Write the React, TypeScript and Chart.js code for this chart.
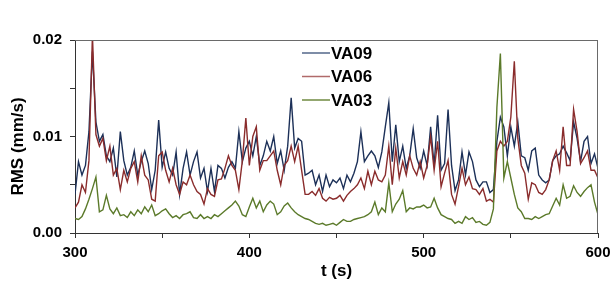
import { useEffect, useRef } from "react";
import { Chart, registerables } from "chart.js";

Chart.register(...registerables);

const TIMES = [
  300, 302, 304, 306, 308, 310, 312, 314, 316, 318,
  320, 322, 324, 326, 328, 330, 332, 334, 336, 338,
  340, 342, 344, 346, 348, 350, 352, 354, 356, 358,
  360, 362, 364, 366, 368, 370, 372, 374, 376, 378,
  380, 382, 384, 386, 388, 390, 392, 394, 396, 398,
  400, 402, 404, 406, 408, 410, 412, 414, 416, 418,
  420, 422, 424, 426, 428, 430, 432, 434, 436, 438,
  440, 442, 444, 446, 448, 450, 452, 454, 456, 458,
  460, 462, 464, 466, 468, 470, 472, 474, 476, 478,
  480, 482, 484, 486, 488, 490, 492, 494, 496, 498,
  500, 502, 504, 506, 508, 510, 512, 514, 516, 518,
  520, 522, 524, 526, 528, 530, 532, 534, 536, 538,
  540, 542, 544, 546, 548, 550, 552, 554, 556, 558,
  560, 562, 564, 566, 568, 570, 572, 574, 576, 578,
  580, 582, 584, 586, 588, 590, 592, 594, 596, 598,
  600,
];

const VA09 = [
  0.0040, 0.0074, 0.0060, 0.0070, 0.0105, 0.0188, 0.0115, 0.0095, 0.0102, 0.0080,
  0.0074, 0.0088, 0.0058, 0.0105, 0.0075, 0.0060, 0.0068, 0.0085, 0.0060, 0.0074,
  0.0085, 0.0072, 0.0045, 0.0065, 0.0117, 0.0068, 0.0084, 0.0067, 0.0060, 0.0084,
  0.0040, 0.0067, 0.0084, 0.0060, 0.0074, 0.0084, 0.0057, 0.0067, 0.0043, 0.0067,
  0.0043, 0.0070, 0.0067, 0.0057, 0.0068, 0.0074, 0.0067, 0.0105, 0.0074, 0.0088,
  0.0095, 0.0080, 0.0100, 0.0070, 0.0080, 0.0095, 0.0085, 0.0100, 0.0072, 0.0085,
  0.0065, 0.0090, 0.0140, 0.0088, 0.0098, 0.0095, 0.0060, 0.0062, 0.0065, 0.0050,
  0.0060, 0.0043, 0.0060, 0.0048, 0.0055, 0.0052, 0.0057, 0.0046, 0.0060, 0.0053,
  0.0062, 0.0074, 0.0105, 0.0074, 0.0080, 0.0085, 0.0080, 0.0068, 0.0084, 0.0110,
  0.0135, 0.0074, 0.0112, 0.0074, 0.0090, 0.0067, 0.0080, 0.0108, 0.0078, 0.0067,
  0.0085, 0.0070, 0.0110, 0.0070, 0.0122, 0.0065, 0.0072, 0.0128, 0.0070, 0.0044,
  0.0055, 0.0084, 0.0060, 0.0084, 0.0074, 0.0055, 0.0048, 0.0053, 0.0053, 0.0042,
  0.0045, 0.0095, 0.0120, 0.0110, 0.0080, 0.0110, 0.0090, 0.0115, 0.0080, 0.0078,
  0.0065, 0.0085, 0.0088, 0.0060, 0.0055, 0.0052, 0.0055, 0.0075, 0.0080, 0.0082,
  0.0090, 0.0083, 0.0075, 0.0115, 0.0098, 0.0074, 0.0095, 0.0100, 0.0072, 0.0082,
  0.0067,
];

const VA06 = [
  0.0026, 0.0032, 0.0050, 0.0042, 0.0075, 0.0205, 0.0102, 0.0090, 0.0098, 0.0075,
  0.0090, 0.0060, 0.0067, 0.0045, 0.0065, 0.0053, 0.0067, 0.0074, 0.0053, 0.0080,
  0.0060, 0.0055, 0.0035, 0.0033, 0.0080, 0.0084, 0.0065, 0.0053, 0.0067, 0.0050,
  0.0040, 0.0053, 0.0050, 0.0060, 0.0050, 0.0043, 0.0040, 0.0030, 0.0046, 0.0040,
  0.0038, 0.0055, 0.0056, 0.0067, 0.0080, 0.0070, 0.0065, 0.0045, 0.0075, 0.0119,
  0.0070, 0.0100, 0.0110, 0.0065, 0.0075, 0.0075, 0.0080, 0.0085, 0.0065, 0.0050,
  0.0070, 0.0075, 0.0090, 0.0074, 0.0090, 0.0065, 0.0040, 0.0040, 0.0043, 0.0039,
  0.0046, 0.0036, 0.0033, 0.0037, 0.0035, 0.0036, 0.0039, 0.0033, 0.0039, 0.0043,
  0.0046, 0.0050, 0.0057, 0.0046, 0.0064, 0.0050, 0.0064, 0.0055, 0.0053, 0.0060,
  0.0090, 0.0050, 0.0088, 0.0057, 0.0074, 0.0060, 0.0080, 0.0067, 0.0060, 0.0074,
  0.0057, 0.0070, 0.0100, 0.0065, 0.0095, 0.0048, 0.0062, 0.0075, 0.0040, 0.0030,
  0.0048, 0.0067, 0.0050, 0.0058, 0.0046, 0.0045, 0.0040, 0.0046, 0.0033, 0.0035,
  0.0032, 0.0085, 0.0095, 0.0090, 0.0095, 0.0120, 0.0178, 0.0098, 0.0070, 0.0062,
  0.0035, 0.0052, 0.0050, 0.0042, 0.0040, 0.0045, 0.0055, 0.0075, 0.0085, 0.0065,
  0.0110, 0.0070, 0.0070, 0.0128, 0.0105, 0.0072, 0.0078, 0.0085, 0.0065, 0.0065,
  0.0057,
];

const VA03 = [
  0.0015, 0.0014, 0.0017, 0.0025, 0.0035, 0.0046, 0.0058, 0.0022, 0.0024, 0.0039,
  0.0025, 0.0020, 0.0026, 0.0018, 0.0019, 0.0016, 0.0022, 0.0018, 0.0024, 0.0020,
  0.0027, 0.0022, 0.0029, 0.0018, 0.0020, 0.0023, 0.0025, 0.0020, 0.0016, 0.0018,
  0.0015, 0.0019, 0.0020, 0.0022, 0.0016, 0.0015, 0.0019, 0.0015, 0.0017, 0.0015,
  0.0019, 0.0017, 0.0020, 0.0023, 0.0026, 0.0029, 0.0033, 0.0028, 0.0019, 0.0017,
  0.0027, 0.0036, 0.0026, 0.0033, 0.0022, 0.0029, 0.0033, 0.0030, 0.0019, 0.0022,
  0.0028, 0.0031, 0.0026, 0.0022, 0.0019, 0.0017, 0.0015, 0.0014, 0.0012, 0.0010,
  0.0009, 0.0010, 0.0008, 0.0009, 0.0010, 0.0008, 0.0011, 0.0014, 0.0012, 0.0012,
  0.0014, 0.0015, 0.0016, 0.0017, 0.0019, 0.0022, 0.0032, 0.0019, 0.0026, 0.0022,
  0.0052, 0.0022, 0.0030, 0.0035, 0.0044, 0.0022, 0.0026, 0.0025, 0.0027, 0.0027,
  0.0029, 0.0026, 0.0027, 0.0036, 0.0026, 0.0019, 0.0017, 0.0015, 0.0014, 0.0010,
  0.0012, 0.0010, 0.0017, 0.0014, 0.0016, 0.0011, 0.0012, 0.0009, 0.0008, 0.0011,
  0.0025, 0.0130, 0.0186, 0.0057, 0.0074, 0.0057, 0.0040, 0.0026, 0.0022, 0.0015,
  0.0015, 0.0014, 0.0017, 0.0015, 0.0017, 0.0019, 0.0020, 0.0028, 0.0036, 0.0029,
  0.0050, 0.0036, 0.0038, 0.0049, 0.0042, 0.0038, 0.0043, 0.0047, 0.0050, 0.0032,
  0.0019,
];

const SERIES_NAMES = ["VA09", "VA06", "VA03"];
const SERIES_COLORS = ["#1c3058", "#8a2c2c", "#5b7a2a"];
const LEGEND_COLORS = ["#53678a", "#b06a6a", "#6f8a40"];
const X_TITLE = "t (s)";
const Y_TITLE = "RMS (mm/s)";

const FONT_FAMILY = "'Liberation Sans', Arial, Helvetica, sans-serif";

export default function App() {
  const canvasRef = useRef<HTMLCanvasElement | null>(null);

  useEffect(() => {
    document.body.style.margin = "0";
    const canvas = canvasRef.current;
    if (!canvas) return;

    const seriesValues = [VA09, VA06, VA03];
    const toPoints = (vals: number[]) => TIMES.map((t, i) => ({ x: t, y: vals[i] }));

    const framePlugin = {
      id: "frameBox",
      afterDraw(chart: any) {
        const { left, top, right, bottom } = chart.chartArea;
        const c = chart.ctx;
        c.save();
        c.strokeStyle = "#6a6a6a";
        c.lineWidth = 1;
        c.beginPath();
        c.moveTo(left, top + 0.5);
        c.lineTo(right, top + 0.5);
        c.moveTo(right - 0.5, top);
        c.lineTo(right - 0.5, bottom);
        c.stroke();
        c.restore();
      },
    };

    const legendPlugin = {
      id: "inlineLegend",
      afterDatasetsDraw(chart: any) {
        const c = chart.ctx;
        c.save();
        c.font = `bold 17px ${FONT_FAMILY}`;
        c.textBaseline = "middle";
        c.textAlign = "left";
        const x0 = 302;
        const x1 = 330;
        const ys = [53, 76.5, 100];
        SERIES_NAMES.forEach((name, i) => {
          c.strokeStyle = LEGEND_COLORS[i];
          c.lineWidth = 1.5;
          c.beginPath();
          c.moveTo(x0, ys[i]);
          c.lineTo(x1, ys[i]);
          c.stroke();
          c.fillStyle = "#000";
          c.fillText(name, x1 + 1, ys[i] + 1);
        });
        c.restore();
      },
    };

    const yTitlePlugin = {
      id: "yTitle",
      afterDraw(chart: any) {
        const c = chart.ctx;
        c.save();
        c.font = `bold 17px ${FONT_FAMILY}`;
        c.fillStyle = "#000";
        c.textAlign = "center";
        c.textBaseline = "middle";
        c.translate(18, 146.5);
        c.rotate(-Math.PI / 2);
        c.fillText(Y_TITLE, 0, 0);
        c.restore();
      },
    };

    const chart = new Chart(canvas, {
      type: "line",
      data: {
        datasets: SERIES_NAMES.map((name, i) => ({
          label: name,
          data: toPoints(seriesValues[i]),
          borderColor: SERIES_COLORS[i],
          backgroundColor: SERIES_COLORS[i],
          borderWidth: 1.4,
          pointRadius: 0,
          tension: 0,
          fill: false,
          order: 2 - i,
        })),
      },
      options: {
        animation: false,
        responsive: false,
        maintainAspectRatio: false,
        devicePixelRatio: 1,
        layout: { padding: { top: 40, right: 16, bottom: 0, left: 0 } },
        plugins: {
          legend: { display: false },
          tooltip: { enabled: false },
        },
        scales: {
          x: {
            type: "linear",
            min: 300,
            max: 600,
            afterFit: (s: any) => {
              s.height = 49;
              s.paddingLeft = 0;
              s.paddingRight = 0;
            },
            ticks: {
              stepSize: 50,
              autoSkip: false,
              maxRotation: 0,
              padding: 6,
              color: "#000",
              font: { family: FONT_FAMILY, size: 15, weight: "bold" },
              callback: (v: any) => (Number(v) % 100 === 0 ? String(v) : ""),
            },
            grid: {
              drawOnChartArea: false,
              drawTicks: true,
              tickLength: 5,
              color: "#333",
            },
            border: { display: true, color: "#333", width: 1 },
            title: {
              display: true,
              text: X_TITLE,
              color: "#000",
              padding: { top: 0, bottom: 0 },
              font: { family: FONT_FAMILY, size: 17, weight: "bold" },
            },
          },
          y: {
            type: "linear",
            min: 0,
            max: 0.02,
            afterFit: (s: any) => {
              s.width = 75;
              s.paddingTop = 0;
              s.paddingBottom = 0;
            },
            ticks: {
              stepSize: 0.005,
              autoSkip: false,
              padding: 8,
              color: "#000",
              font: { family: FONT_FAMILY, size: 15, weight: "bold" },
              callback: (v: any) => {
                const k = Math.round(Number(v) * 1000);
                return k % 10 === 0 ? Number(v).toFixed(2) : "";
              },
            },
            grid: {
              drawOnChartArea: false,
              drawTicks: true,
              tickLength: 5,
              color: "#333",
            },
            border: { display: true, color: "#333", width: 1 },
          },
        },
      },
      plugins: [framePlugin, legendPlugin, yTitlePlugin],
    } as any);

    return () => chart.destroy();
  }, []);

  return (
    <div style={{ position: "fixed", left: 0, top: 0, width: 614, height: 282, background: "#fff" }}>
      <canvas ref={canvasRef} width={614} height={282} style={{ display: "block" }} />
    </div>
  );
}
